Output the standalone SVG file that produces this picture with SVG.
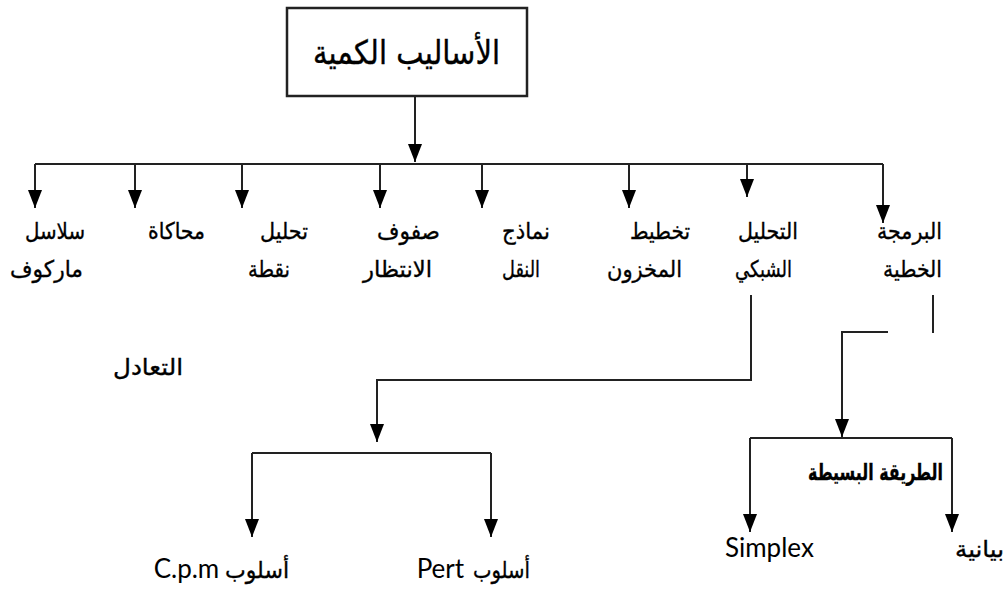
<svg xmlns="http://www.w3.org/2000/svg" width="1004" height="589" viewBox="0 0 1004 589">
<style>
.ln{fill:none;stroke:#222;stroke-width:2}
.ar{font-family:'DejaVu Sans',sans-serif;font-size:23px;fill:#000;stroke:#000;stroke-width:0.35;text-anchor:end}
.la{font-family:Lato,'Liberation Sans',sans-serif;font-size:26px;fill:#000}
.box{fill:#fff;stroke:#222;stroke-width:2.5}
</style>
<defs>
<marker id="a" markerUnits="userSpaceOnUse" viewBox="0 0 18 14" refX="18" refY="7" markerWidth="18" markerHeight="14" orient="auto">
<path d="M0,0 L18,7 L0,14 z" fill="#000"/>
</marker>
</defs>
<g id="connectors">
<path class="ln" d="M415,96 V162" marker-end="url(#a)"/>
<path class="ln" d="M35,164 H883"/>
<path class="ln" d="M35,164 V208" marker-end="url(#a)"/>
<path class="ln" d="M135,164 V208" marker-end="url(#a)"/>
<path class="ln" d="M242,164 V208" marker-end="url(#a)"/>
<path class="ln" d="M380,164 V208" marker-end="url(#a)"/>
<path class="ln" d="M482,164 V208" marker-end="url(#a)"/>
<path class="ln" d="M629,164 V208" marker-end="url(#a)"/>
<path class="ln" d="M747,164 V197" marker-end="url(#a)"/>
<path class="ln" d="M883,164 V223" marker-end="url(#a)"/>
<path class="ln" d="M751,295 V380 H377 V442" marker-end="url(#a)"/>
<path class="ln" d="M252,453 H491"/>
<path class="ln" d="M252,453 V537" marker-end="url(#a)"/>
<path class="ln" d="M491,453 V537" marker-end="url(#a)"/>
<path class="ln" d="M933,295 V333"/>
<path class="ln" d="M888,332 H842 V437" marker-end="url(#a)"/>
<path class="ln" d="M750,438 H952"/>
<path class="ln" d="M750,438 V532" marker-end="url(#a)"/>
<path class="ln" d="M952,438 V532" marker-end="url(#a)"/>
</g>
<g id="root">
<rect class="box" x="287" y="8" width="240" height="88"/>
<text x="500" y="64" font-family="'DejaVu Sans',sans-serif" font-size="33" stroke="#000" stroke-width="0.4" text-anchor="end" textLength="187" lengthAdjust="spacingAndGlyphs">الأساليب الكمية</text>
</g>
<g id="n-markov"><text class="ar" x="85" y="239" textLength="60" lengthAdjust="spacingAndGlyphs">سلاسل</text><text class="ar" x="83" y="277" textLength="73" lengthAdjust="spacingAndGlyphs">ماركوف</text></g>
<g id="n-sim"><text class="ar" x="205" y="239" textLength="57" lengthAdjust="spacingAndGlyphs">محاكاة</text></g>
<g id="n-point"><text class="ar" x="308" y="239" textLength="48" lengthAdjust="spacingAndGlyphs">تحليل</text><text class="ar" x="290" y="277" textLength="42" lengthAdjust="spacingAndGlyphs">نقطة</text></g>
<g id="n-queue"><text class="ar" x="440" y="239" textLength="63" lengthAdjust="spacingAndGlyphs">صفوف</text><text class="ar" x="432" y="277" textLength="69" lengthAdjust="spacingAndGlyphs">الانتظار</text></g>
<g id="n-transport"><text class="ar" x="550" y="239" textLength="48" lengthAdjust="spacingAndGlyphs">نماذج</text><text class="ar" x="540" y="277" textLength="38" lengthAdjust="spacingAndGlyphs">النقل</text></g>
<g id="n-inventory"><text class="ar" x="690" y="239" textLength="60" lengthAdjust="spacingAndGlyphs">تخطيط</text><text class="ar" x="682" y="277" textLength="75" lengthAdjust="spacingAndGlyphs">المخزون</text></g>
<g id="n-network"><text class="ar" x="798" y="239" textLength="60" lengthAdjust="spacingAndGlyphs">التحليل</text><text class="ar" x="792" y="277" textLength="57" lengthAdjust="spacingAndGlyphs">الشبكي</text></g>
<g id="n-lp"><text class="ar" x="942" y="239" textLength="65" lengthAdjust="spacingAndGlyphs">البرمجة</text><text class="ar" x="942" y="277" textLength="59" lengthAdjust="spacingAndGlyphs">الخطية</text></g>
<g id="n-equil"><text class="ar" x="183" y="375" font-size="25" textLength="70" lengthAdjust="spacingAndGlyphs">التعادل</text></g>
<g id="n-cpm"><text><tspan class="ar" x="289" y="578" textLength="64" lengthAdjust="spacingAndGlyphs">أسلوب</tspan><tspan class="la" x="147" y="578"> C.p.m</tspan></text></g>
<g id="n-pert"><text><tspan class="ar" x="530" y="578" textLength="57" lengthAdjust="spacingAndGlyphs">أسلوب</tspan><tspan class="la" x="410" y="578" font-size="28"> Pert</tspan></text></g>
<g id="n-simple"><text class="ar" x="943" y="480" font-size="19" font-weight="bold" stroke-width="0" textLength="135" lengthAdjust="spacingAndGlyphs">الطريقة  البسيطة</text></g>
<g id="n-simplex"><text class="la" x="725" y="557">Simplex</text></g>
<g id="n-graph"><text class="ar" x="1004" y="557" textLength="49" lengthAdjust="spacingAndGlyphs">بيانية</text></g>
</svg>
